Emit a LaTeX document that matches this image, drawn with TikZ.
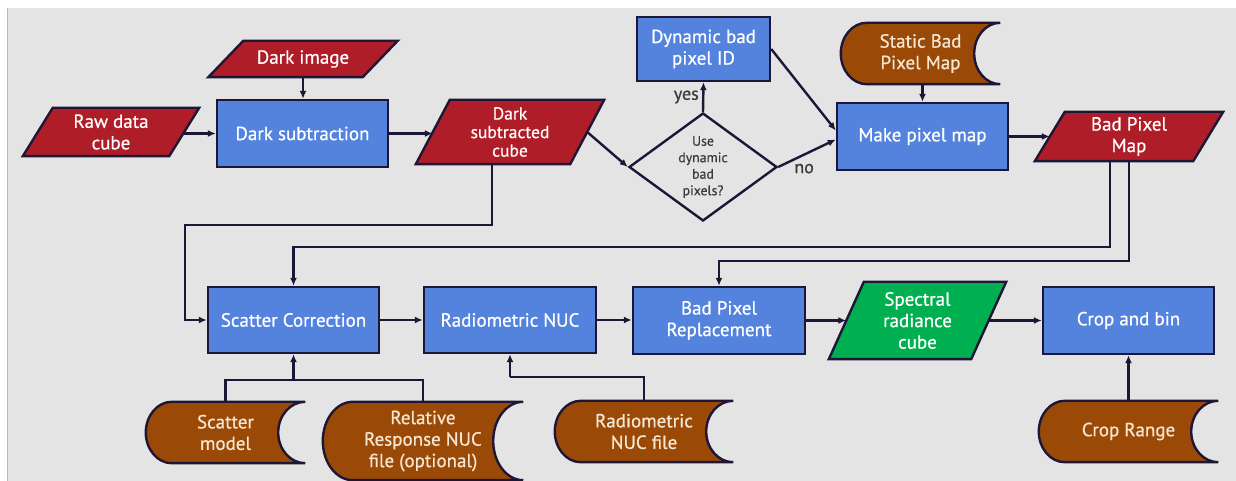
\documentclass[tikz,border=0pt]{standalone}
\usepackage{fontspec}
\setmainfont{PT Sans}
\newfontfamily\boxfam{PT Sans}[FakeBold=0.6]
\usetikzlibrary{arrows.meta,shapes.geometric,calc}
\definecolor{bgray}{HTML}{E4E4E4}
\definecolor{boxblue}{HTML}{5383DD}
\definecolor{datared}{HTML}{AF1E28}
\definecolor{storebrown}{HTML}{9A4A06}
\definecolor{outgreen}{HTML}{00AF50}
\definecolor{edgecol}{HTML}{1E1636}
\definecolor{cream}{HTML}{F6E6D2}
\definecolor{textgray}{HTML}{3A3A3A}
\pgfdeclarelayer{back}\pgfdeclarelayer{shapes}
\pgfsetlayers{back,shapes,main}
\newcommand\boxfont{\boxfam\fontsize{19}{21.5}\selectfont}
\newcommand\midfont{\boxfam\fontsize{17.5}{18.5}\selectfont}
\newcommand\decfont{\boxfam\fontsize{13.8}{16.5}\selectfont}
\newcommand\lblfont{\boxfam\fontsize{18}{20}\selectfont}
\tikzset{
  shapeline/.style={draw=edgecol, line width=2.4pt},
  proc/.style={shape=rectangle, draw=edgecol, line width=2.4pt, fill=boxblue, text=white, font=\boxfont, align=center, inner sep=0pt},
  datanode/.style={shape=rectangle, inner sep=0pt, align=center, text=white, font=\boxfont},
  storenode/.style={shape=rectangle, inner sep=0pt, align=center, text=cream, font=\boxfont},
  decision/.style={shape=diamond, draw=edgecol, line width=2.4pt, aspect=1.37, inner sep=0pt, align=center, text=textgray, font=\decfont},
  conn/.style={draw=edgecol, line width=2.4pt},
  arr/.style={conn, -{Latex[length=8pt,width=7pt]}},
}
\newcommand\drawpara[3]{%
  \begin{pgfonlayer}{shapes}
  \filldraw[fill=#3, shapeline] ([xshift=#2pt]#1.north west) -- ([xshift=#2pt]#1.north east) -- ([xshift=-#2pt]#1.south east) -- ([xshift=-#2pt]#1.south west) -- cycle;
  \end{pgfonlayer}}
\newcommand\drawstore[3]{%
  \begin{pgfonlayer}{shapes}
  \filldraw[fill=storebrown, shapeline] let \p1=(#1.north west), \p2=(#1.south east), \n1={(\y1-\y2)/2} in
    (\x1+#2pt,\y1) -- (\x2,\y1) arc[start angle=90, end angle=270, x radius=#3pt, y radius=\n1]
    -- (\x1+#2pt,\y2) arc[start angle=270, end angle=90, x radius=#2pt, y radius=\n1] -- cycle;
  \end{pgfonlayer}}
\begin{document}
\begin{tikzpicture}[x=1pt,y=1pt]
\useasboundingbox (0,0) rectangle (1236,481);
\begin{pgfonlayer}{back}
  \fill[white] (0,0) rectangle (1236,481);
  \fill[bgray] (7,0) rectangle (1236,473);
  \draw[gray!55, line width=1.2pt] (7.6,0) -- (7.6,473);
\end{pgfonlayer}

% data (parallelogram) nodes
\node[datanode, minimum width=146pt, minimum height=48pt] (raw) at (111,349) {Raw data\\cube};
\node[datanode, minimum width=154pt, minimum height=36pt] (darkimg) at (303,422) {Dark image};
\node[datanode, font=\midfont, minimum width=154pt, minimum height=64pt] (dsc) at (510,349) {Dark\\subtracted\\cube};
\node[datanode, minimum width=158pt, minimum height=49pt] (bpm) at (1129,344.5) {Bad Pixel\\Map};
\node[datanode, minimum width=142pt, minimum height=77pt] (spec) at (917.5,160.5) {Spectral\\radiance\\cube};
\drawpara{raw}{15}{datared}
\drawpara{darkimg}{17.5}{datared}
\drawpara{dsc}{17}{datared}
\drawpara{bpm}{15}{datared}
\drawpara{spec}{17.5}{outgreen}

% process nodes
\node[proc, minimum width=171pt, minimum height=67pt] (darksub) at (302.5,347.5) {Dark subtraction};
\node[proc, minimum width=133pt, minimum height=64pt] (dynid) at (703.5,432) {Dynamic bad\\pixel ID};
\node[proc, minimum width=171pt, minimum height=67pt] (makemap) at (922.5,344.5) {Make pixel map};
\node[proc, minimum width=171pt, minimum height=66pt] (scatter) at (293.5,161) {Scatter Correction};
\node[proc, minimum width=172pt, minimum height=66pt] (radnuc) at (510,161) {Radiometric NUC};
\node[proc, minimum width=172pt, minimum height=67pt] (bpr) at (719,160.5) {Bad Pixel\\Replacement};
\node[proc, minimum width=171pt, minimum height=67pt] (crop) at (1128.5,160.5) {Crop and bin};

% decision
\node[decision, minimum width=148pt, minimum height=108pt] (dec) at (703,314) {Use\\dynamic\\bad\\pixels?};

% stored data nodes
\node[storenode, minimum width=159pt, minimum height=61pt] (static) at (920.5,427.5) {Static Bad\\Pixel Map};
\node[storenode, minimum width=159pt, minimum height=61pt] (smodel) at (225.5,48.5) {Scatter\\model};
\node[storenode, minimum width=200pt, minimum height=78pt] (relresp) at (423,40) {Relative\\Response NUC\\file (optional)};
\node[storenode, minimum width=178pt, minimum height=61pt] (rnucfile) at (644,49.5) {Radiometric\\NUC file};
\node[storenode, minimum width=179pt, minimum height=61pt] (croprange) at (1128.5,49.5) {Crop Range};
\drawstore{static}{26}{26}
\drawstore{smodel}{26}{27}
\drawstore{relresp}{30}{30}
\drawstore{rnucfile}{26}{27}
\drawstore{croprange}{26}{27}

% connector turn points
\coordinate (loopL) at (185,256);
\coordinate (jscat) at (293.5,101);
\coordinate (jrad) at (510,104);

% connectors
\draw[arr] (darkimg.south) -- (darkimg.south |- darksub.north);
\draw[arr] (raw.east |- darksub.west) -- (darksub.west);
\draw[arr] (darksub.east) -- (darksub.east -| dsc.west);
\draw[arr] (dsc.east) -- (dec.west);
\draw[arr] (dec.north) -- node[left, font=\lblfont, text=textgray] {yes} (dynid.south);
\draw[arr] (dynid.east) -- ([yshift=6pt]makemap.west);
\draw[arr] (dec.east) -- node[pos=0.45, yshift=-14pt, font=\lblfont, text=textgray] {no} ([yshift=-3pt]makemap.west);
\draw[arr] (makemap.north |- static.south) -- (makemap.north);
\draw[arr] (makemap.east) -- (makemap.east -| bpm.west);
\draw[arr] ([xshift=-19pt]bpm.south) -- ++(0,-86) -| (scatter.north);
\draw[arr] (bpm.south) -- ++(0,-100) -| (bpr.north);
\draw[arr] ([xshift=-18pt]dsc.south) |- (loopL) |- (scatter.west);
\draw[arr] (scatter.east) -- (radnuc.west);
\draw[arr] (radnuc.east) -- (radnuc.east -| bpr.west);
\draw[arr] (bpr.east) -- (bpr.east -| spec.west);
\draw[arr] (spec.east) -- (spec.east -| crop.west);
\draw[conn] (smodel.north) |- (jscat);
\draw[conn] (relresp.north) |- (jscat);
\draw[arr] (jscat) -- (scatter.south);
\draw[conn] (rnucfile.north) |- (jrad);
\draw[arr] (jrad) -- (radnuc.south);
\draw[arr] (croprange.north) -- (crop.south);
\end{tikzpicture}
\end{document}
